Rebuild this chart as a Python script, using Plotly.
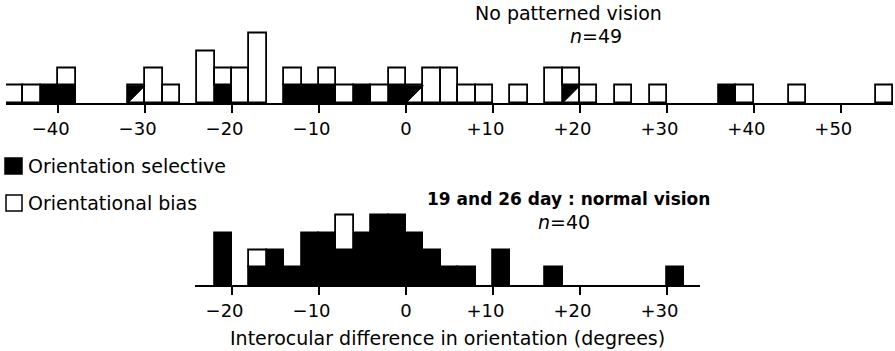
import plotly.graph_objects as go

# ---------------- data ----------------
# Top panel: no patterned vision (n=49), 2-degree bins (bin centres)
top_centers = [-45, -43, -41, -39, -31, -29, -27, -23, -21, -19, -17, -13, -11, -9, -7, -5, -3, -1,
               1, 3, 5, 7, 9, 13, 17, 19, 21, 25, 29, 37, 39, 45, 55]
top_selective = [0, 0, 1, 1, 0, 0, 0, 0, 1, 0, 0, 1, 1, 1, 0, 1, 0, 1,
                 0, 0, 0, 0, 0, 0, 0, 0, 0, 0, 0, 1, 0, 0, 0]
top_mixed = [0, 0, 0, 0, 1, 0, 0, 0, 0, 0, 0, 0, 0, 0, 0, 0, 0, 0,
             1, 0, 0, 0, 0, 0, 0, 1, 0, 0, 0, 0, 0, 0, 0]
top_bias = [1, 1, 0, 1, 0, 2, 1, 3, 1, 2, 4, 1, 0, 1, 1, 0, 1, 1,
            0, 2, 2, 1, 1, 1, 2, 1, 1, 1, 1, 0, 1, 1, 1]

# Bottom panel: 19 and 26 day normal vision (n=40)
bottom_centers = [-21, -17, -15, -13, -11, -9, -7, -5, -3, -1, 1, 3, 5, 7, 11, 17, 31]
bottom_selective = [3, 1, 2, 1, 3, 3, 2, 3, 4, 4, 3, 2, 1, 1, 2, 1, 1]
bottom_bias = [0, 1, 0, 0, 0, 0, 2, 0, 0, 0, 0, 0, 0, 0, 0, 0, 0]

bin_width = 2

top_tickvals = [-40, -30, -20, -10, 0, 10, 20, 30, 40, 50]
top_ticktext = ["\u221240", "\u221230", "\u221220", "\u221210", "0", "+10", "+20", "+30", "+40", "+50"]
bottom_tickvals = [-20, -10, 0, 10, 20, 30]
bottom_ticktext = ["\u221220", "\u221210", "0", "+10", "+20", "+30"]

# ---------------- layout helpers ----------------
W, H = 895, 351
FONT = "DejaVu Sans"
LW = 1.8
SIGN_PAD = "\u2007\u2009"  # balances the sign so the digits sit centred on the tick


def px(x):
    return x / W


def py(y):
    return 1 - y / H


def pad_labels(labels):
    return [t + SIGN_PAD if t[0] in "+\u2212" else t for t in labels]


fig = go.Figure()


def add_bars(x, base, height, color, xa, ya, lw=LW):
    xs = [c for c, h in zip(x, height) if h > 0]
    bs = [b for b, h in zip(base, height) if h > 0]
    hs = [h for h in height if h > 0]
    fig.add_trace(go.Bar(
        x=xs, y=hs, base=bs, width=bin_width,
        marker=dict(color=color, line=dict(color="black", width=lw)),
        xaxis=xa, yaxis=ya, showlegend=False, hoverinfo="skip"))


# top panel
zeros_top = [0] * len(top_centers)
add_bars(top_centers, zeros_top, top_selective, "black", "x", "y")
add_bars(top_centers, zeros_top, top_mixed, "white", "x", "y")
top_bias_base = [s + m for s, m in zip(top_selective, top_mixed)]
add_bars(top_centers, top_bias_base, top_bias, "white", "x", "y")
# half-filled (mixed) cells: upper-left triangle black
for c, m in zip(top_centers, top_mixed):
    if m > 0:
        x0, x1 = c - bin_width / 2, c + bin_width / 2
        fig.add_trace(go.Scatter(
            x=[x0, x1, x0, x0], y=[m, m, 0, m], mode="lines", fill="toself",
            fillcolor="black", line=dict(color="black", width=1),
            xaxis="x", yaxis="y", showlegend=False, hoverinfo="skip"))

# bottom panel
zeros_bot = [0] * len(bottom_centers)
add_bars(bottom_centers, zeros_bot, bottom_selective, "black", "x2", "y2")
add_bars(bottom_centers, bottom_selective, bottom_bias, "white", "x2", "y2")

# ---------------- axes ----------------
top_left_px, top_right_px = 6, 893
top_range = [-46, 56]
scale = (top_right_px - top_left_px) / (top_range[1] - top_range[0])
zero_px = top_left_px - top_range[0] * scale
bot_left_px, bot_right_px = 195, 700
bot_range = [(bot_left_px - zero_px) / scale, (bot_right_px - zero_px) / scale]

unit = 17.3
ytop_max = 4.6
yb_max = 4.6
top_base_px = 103
bot_base_px = 285

axis_common = dict(showline=True, linecolor="black", linewidth=LW, ticks="outside",
                   ticklen=8, tickwidth=LW, tickcolor="black", showgrid=False, zeroline=False,
                   tickfont=dict(family=FONT, size=18, color="black"), fixedrange=True)

fig.update_layout(
    width=W, height=H,
    margin=dict(l=0, r=0, t=0, b=0, autoexpand=False),
    paper_bgcolor="white", plot_bgcolor="white",
    barmode="overlay", bargap=0,
    xaxis=dict(domain=[px(top_left_px), px(top_right_px)], range=top_range,
               tickvals=top_tickvals, ticktext=pad_labels(top_ticktext), anchor="y", **axis_common),
    yaxis=dict(domain=[py(top_base_px), py(top_base_px - ytop_max * unit)], range=[0, ytop_max],
               visible=False, fixedrange=True),
    xaxis2=dict(domain=[px(bot_left_px), px(bot_right_px)], range=bot_range,
                tickvals=bottom_tickvals, ticktext=pad_labels(bottom_ticktext), anchor="y2", **axis_common),
    yaxis2=dict(domain=[py(bot_base_px), py(bot_base_px - yb_max * unit)], range=[0, yb_max],
                visible=False, fixedrange=True),
    font=dict(family=FONT, color="black"),
)

# ---------------- text ----------------
def ann(text, x, y, size=19, xanchor="center", weight=None):
    f = dict(family=FONT, size=size, color="black")
    if weight:
        f["weight"] = weight
    fig.add_annotation(text=text, x=px(x), y=py(y), xref="paper", yref="paper",
                       xanchor=xanchor, yanchor="middle", showarrow=False, font=f)


ann("No patterned vision", 568, 13)
ann("<i>n</i>=49", 596, 36)
ann("19 and 26 day : normal vision", 568, 199, size=17, weight="bold")
ann("<i>n</i>=40", 564, 222)
ann("Orientation selective", 26, 166, xanchor="left")
ann("Orientational bias", 26, 203, xanchor="left")
ann("Interocular difference in orientation (degrees)", 447, 338)

# legend squares
fig.add_shape(type="rect", xref="paper", yref="paper", x0=px(5), x1=px(22), y0=py(174), y1=py(158),
              fillcolor="black", line=dict(color="black", width=1.5))
fig.add_shape(type="rect", xref="paper", yref="paper", x0=px(6), x1=px(22), y0=py(211), y1=py(195),
              fillcolor="white", line=dict(color="black", width=1.5))

fig.write_html("out.html")
